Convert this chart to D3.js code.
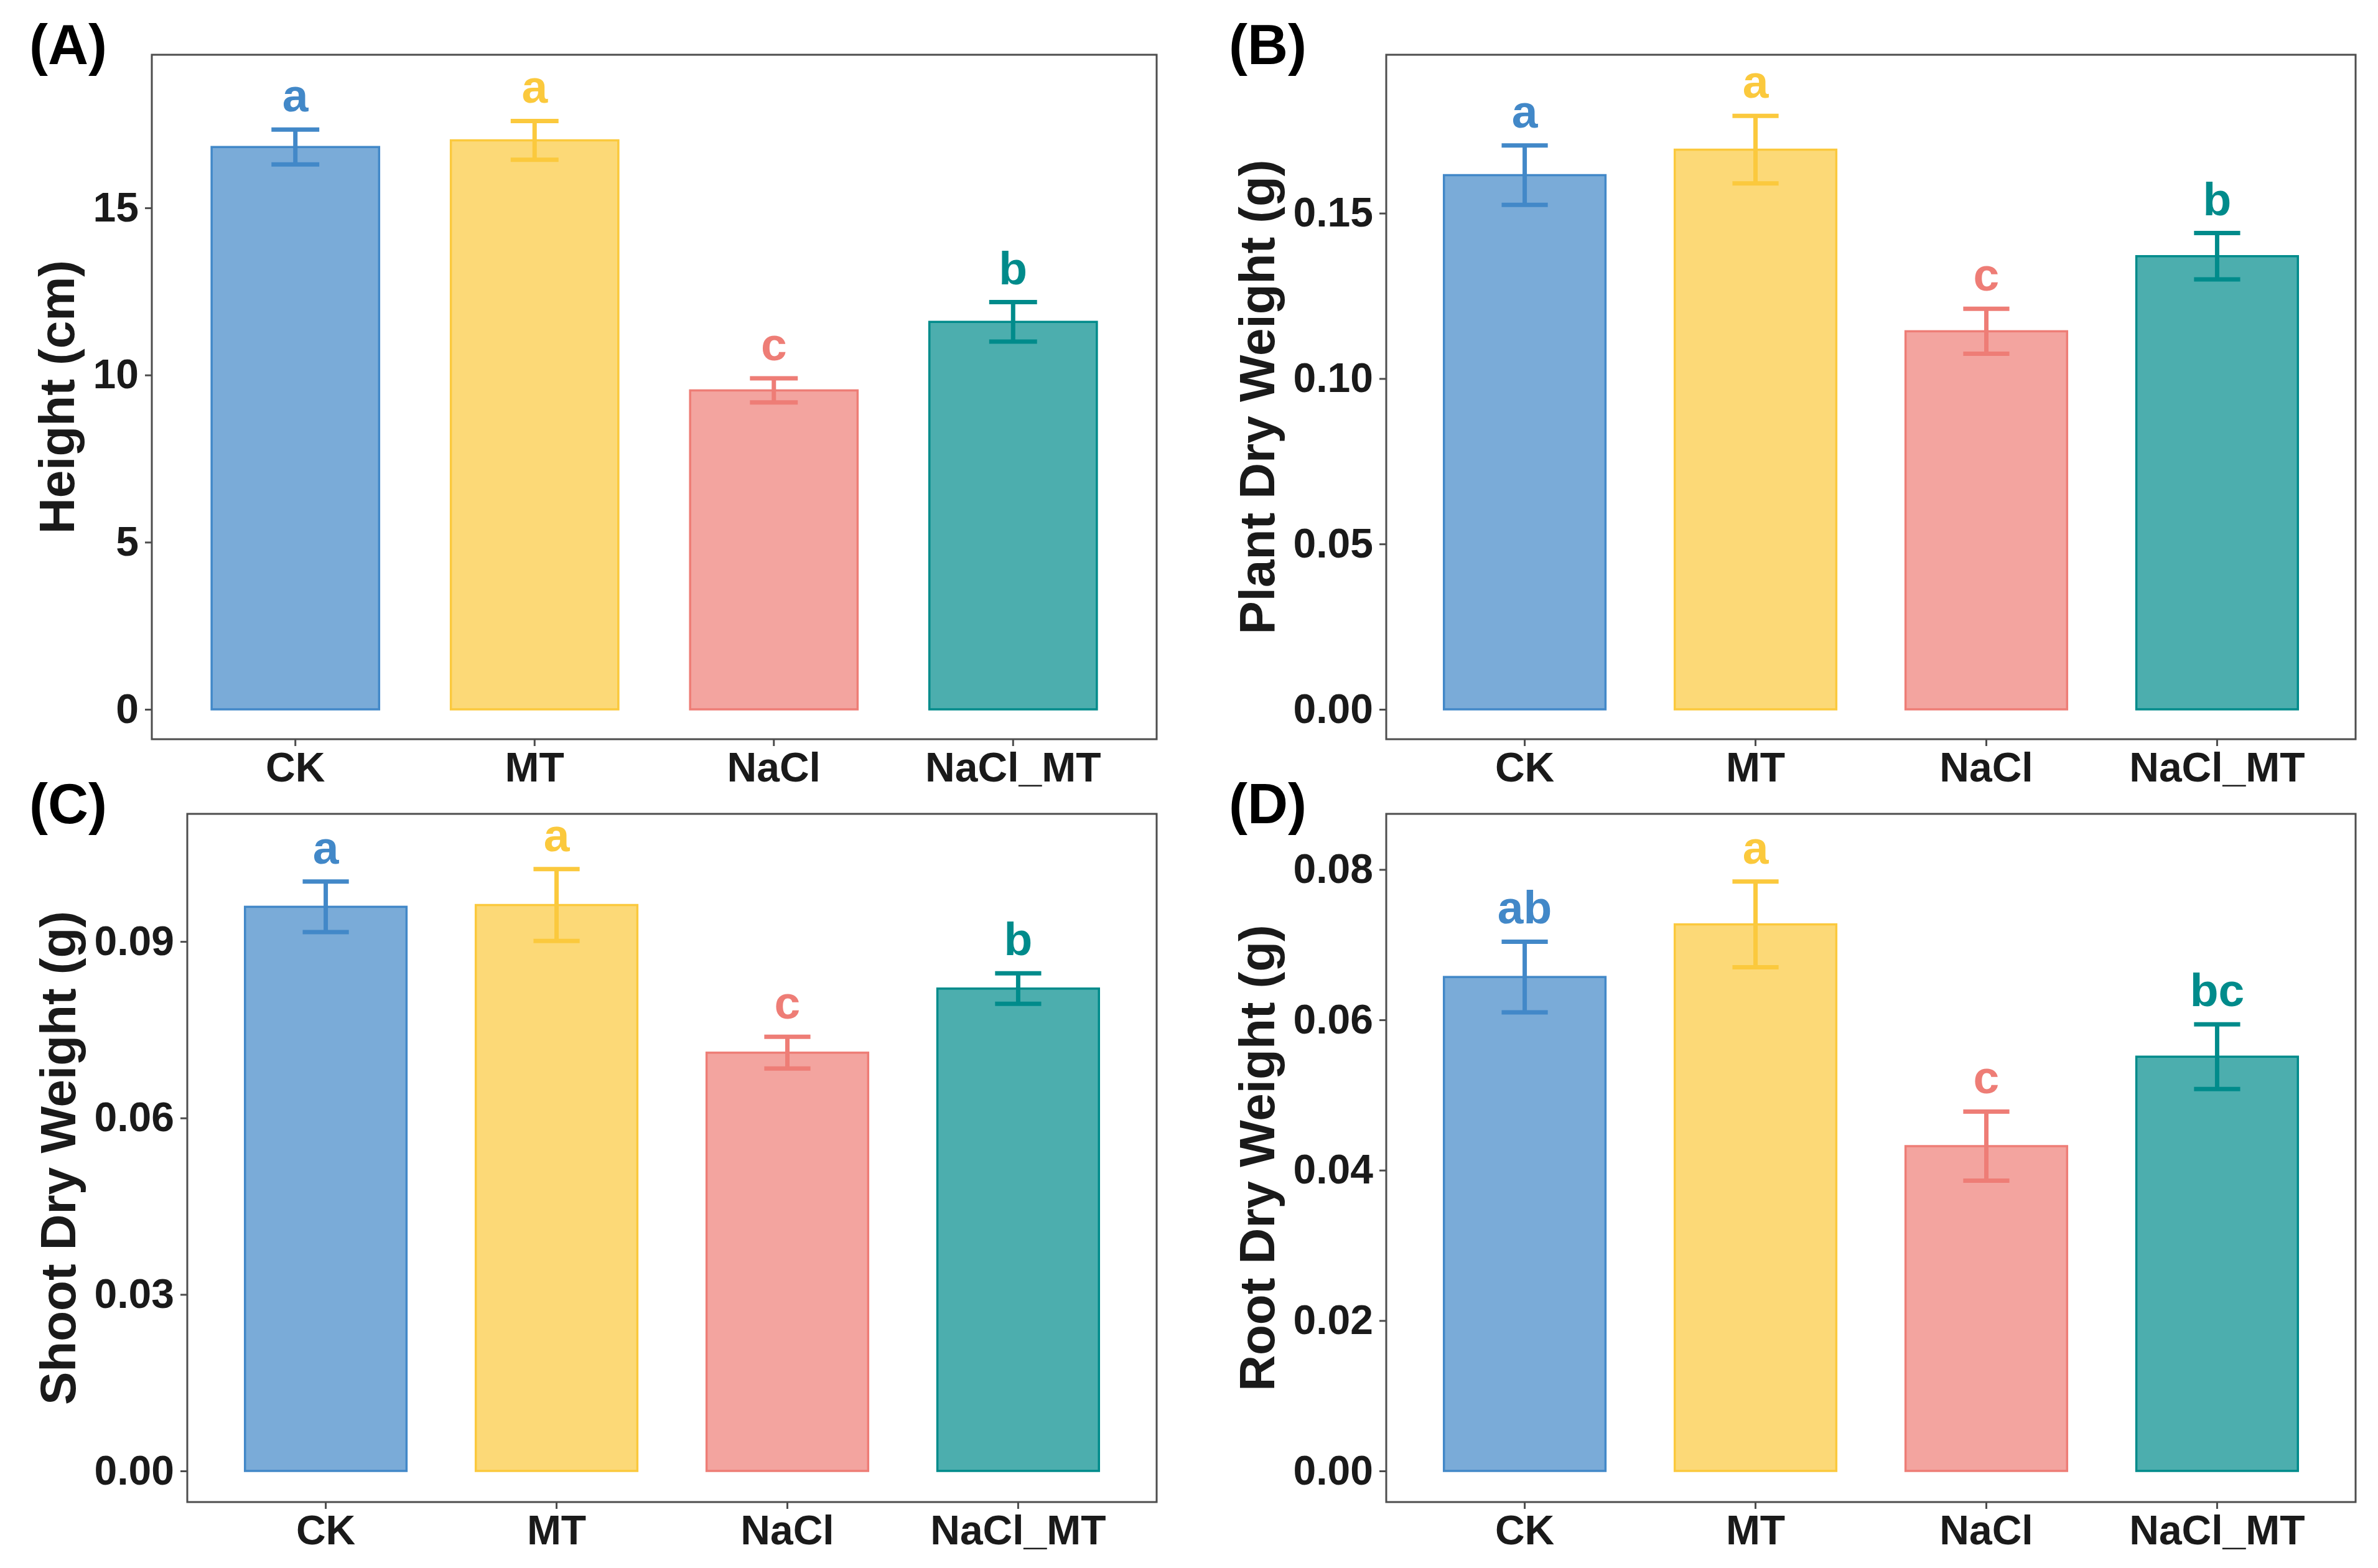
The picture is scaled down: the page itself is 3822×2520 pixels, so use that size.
<!DOCTYPE html>
<html>
<head>
<meta charset="utf-8">
<script src="https://cdn.jsdelivr.net/npm/d3@7"></script>
<style>
  body { margin: 0; background: #fff; }
  text { font-family: "Liberation Sans", Arial, sans-serif; font-weight: bold; }
</style>
</head>
<body>
<svg id="chart"></svg>
<script>
const categories = ['CK', 'MT', 'NaCl', 'NaCl_MT'];
const colors = ['#4288C8', '#FBC93D', '#EE7D76', '#008B8B'];

const heightMean = [16.82, 17.02, 9.54, 11.59];
const heightSE = [0.52, 0.58, 0.36, 0.59];
const heightLetters = ['a', 'a', 'c', 'b'];
const heightTicks = [0, 5, 10, 15];

const plantMean = [0.1615, 0.1692, 0.1143, 0.1370];
const plantSE = [0.0090, 0.0102, 0.0068, 0.0070];
const plantLetters = ['a', 'a', 'c', 'b'];
const plantTicks = [0, 0.05, 0.10, 0.15];

const shootMean = [0.0959, 0.0962, 0.0711, 0.0820];
const shootSE = [0.0043, 0.0061, 0.0027, 0.0026];
const shootLetters = ['a', 'a', 'c', 'b'];
const shootTicks = [0, 0.03, 0.06, 0.09];

const rootMean = [0.0657, 0.0727, 0.0432, 0.0551];
const rootSE = [0.0047, 0.0057, 0.0046, 0.0043];
const rootLetters = ['ab', 'a', 'c', 'bc'];
const rootTicks = [0, 0.02, 0.04, 0.06, 0.08];

const W = 3822, H = 2520;
const f2 = d3.format('.2f');

const panels = [
  { tag: '(A)', title: 'Height (cm)', mean: heightMean, se: heightSE, letters: heightLetters,
    ticks: heightTicks, fmt: d => d, domain: [-0.893, 19.58], box: [244, 88, 1859, 1188], tagX: 47 },
  { tag: '(B)', title: 'Plant Dry Weight (g)', mean: plantMean, se: plantSE, letters: plantLetters,
    ticks: plantTicks, fmt: f2, domain: [-0.00903, 0.1979], box: [2228, 88, 3786, 1188], tagX: 1975 },
  { tag: '(C)', title: 'Shoot Dry Weight (g)', mean: shootMean, se: shootSE, letters: shootLetters,
    ticks: shootTicks, fmt: f2, domain: [-0.00529, 0.1117], box: [301, 1308, 1859, 2414], tagX: 47 },
  { tag: '(D)', title: 'Root Dry Weight (g)', mean: rootMean, se: rootSE, letters: rootLetters,
    ticks: rootTicks, fmt: f2, domain: [-0.00414, 0.0874], box: [2228, 1308, 3786, 2414], tagX: 1975 }
];

const svg = d3.select('#chart').attr('width', W).attr('height', H)
  .attr('viewBox', `0 0 ${W} ${H}`);
svg.append('rect').attr('width', W).attr('height', H).attr('fill', '#fff');

panels.forEach(p => {
  const [x0, y0, x1, y1] = p.box;
  const g = svg.append('g');

  const x = d3.scaleBand().domain(categories).range([x0, x1])
    .paddingInner(0.3).paddingOuter(0.25);
  const y = d3.scaleLinear().domain(p.domain).range([y1, y0]);
  const step = x.step();
  const rows = categories.map((c, i) => ({ c, i, m: p.mean[i], s: p.se[i], l: p.letters[i] }));

  g.selectAll('rect.bar').data(rows).enter().append('rect')
    .attr('class', 'bar')
    .attr('x', d => x(d.c))
    .attr('y', d => y(d.m))
    .attr('width', x.bandwidth())
    .attr('height', d => y(0) - y(d.m))
    .attr('fill', d => colors[d.i]).attr('fill-opacity', 0.7)
    .attr('stroke', d => colors[d.i]).attr('stroke-width', 3.5);

  const eb = g.selectAll('g.err').data(rows).enter().append('g')
    .attr('class', 'err')
    .attr('stroke', d => colors[d.i]).attr('stroke-width', 7).attr('fill', 'none');
  const cx = d => x(d.c) + x.bandwidth() / 2;
  eb.append('line').attr('x1', cx).attr('x2', cx)
    .attr('y1', d => y(d.m - d.s)).attr('y2', d => y(d.m + d.s));
  eb.append('line').attr('x1', d => cx(d) - step * 0.1).attr('x2', d => cx(d) + step * 0.1)
    .attr('y1', d => y(d.m + d.s)).attr('y2', d => y(d.m + d.s));
  eb.append('line').attr('x1', d => cx(d) - step * 0.1).attr('x2', d => cx(d) + step * 0.1)
    .attr('y1', d => y(d.m - d.s)).attr('y2', d => y(d.m - d.s));

  g.selectAll('text.sig').data(rows).enter().append('text')
    .attr('class', 'sig')
    .attr('x', cx)
    .attr('y', d => y(d.m + d.s) - 29)
    .attr('text-anchor', 'middle')
    .attr('font-size', 75)
    .attr('fill', d => colors[d.i])
    .text(d => d.l);

  // axes
  const ya = g.append('g').attr('transform', `translate(${x0},0)`)
    .call(d3.axisLeft(y).tickValues(p.ticks).tickFormat(p.fmt).tickSize(11).tickPadding(10));
  const xa = g.append('g').attr('transform', `translate(0,${y1})`)
    .call(d3.axisBottom(x).tickSize(11).tickPadding(10));
  [ya, xa].forEach(a => {
    a.select('.domain').remove();
    a.selectAll('line').attr('stroke', '#4D4D4D').attr('stroke-width', 3);
    a.selectAll('text').attr('font-size', 66).attr('fill', '#1A1A1A')
      .attr('font-family', '"Liberation Sans", Arial, sans-serif').attr('font-weight', 'bold');
  });

  g.append('rect').attr('x', x0).attr('y', y0)
    .attr('width', x1 - x0).attr('height', y1 - y0)
    .attr('fill', 'none').attr('stroke', '#4D4D4D').attr('stroke-width', 3);

  let minX = Infinity;
  ya.selectAll('text').each(function () {
    const b = this.getBBox();
    minX = Math.min(minX, x0 + b.x);
  });
  const tx = minX - 31, ty = (y0 + y1) / 2;
  g.append('text')
    .attr('transform', `translate(${tx},${ty}) rotate(-90)`)
    .attr('text-anchor', 'middle')
    .attr('font-size', 80)
    .attr('fill', '#1A1A1A')
    .text(p.title);

  g.append('text').attr('x', p.tagX).attr('y', y0 + 15)
    .attr('font-size', 90).attr('fill', '#000')
    .text(p.tag);
});
</script>
</body>
</html>
